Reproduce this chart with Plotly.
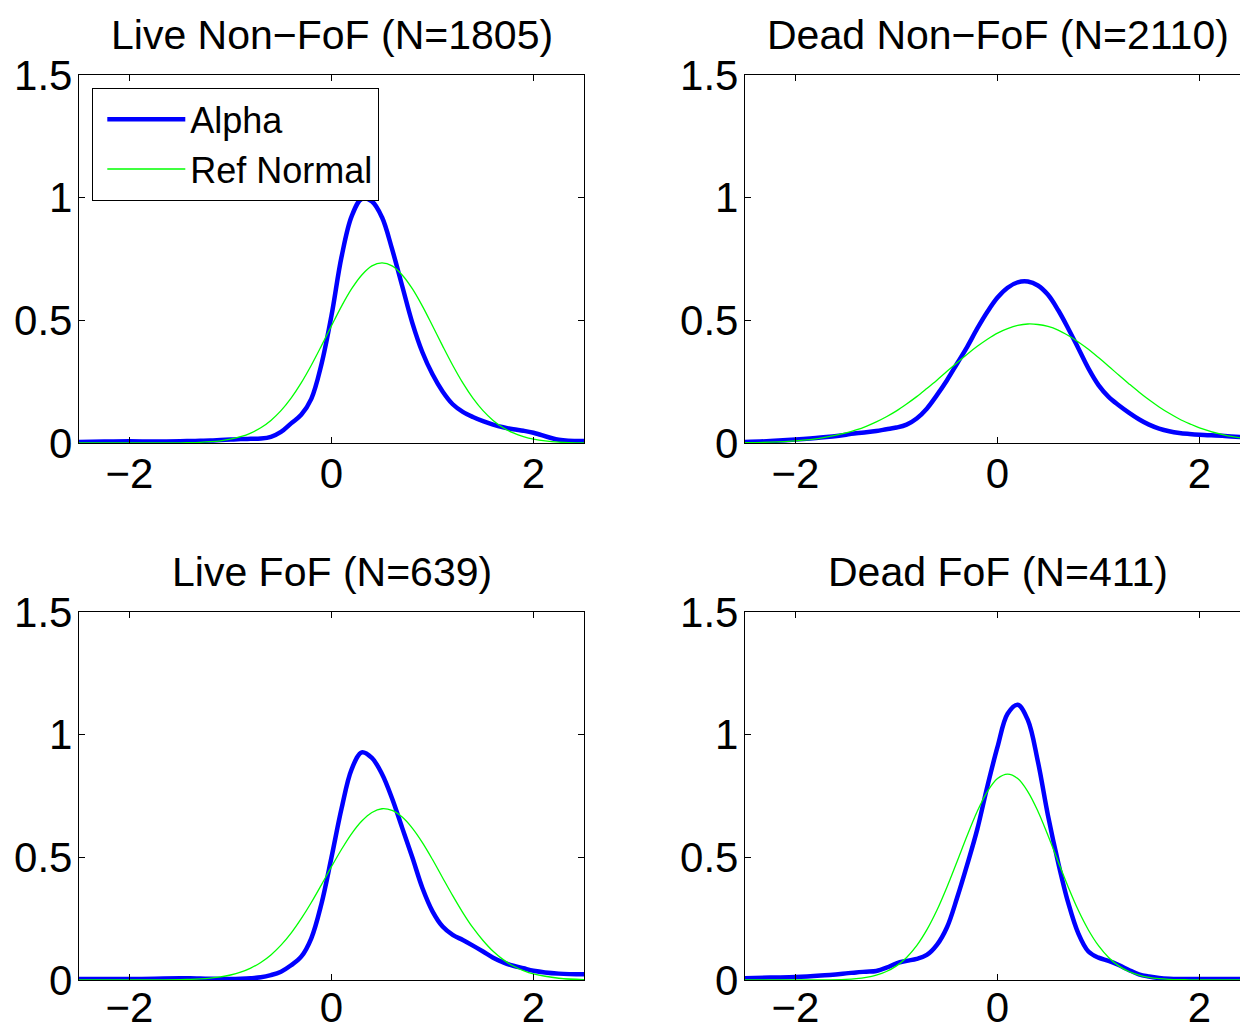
import plotly.graph_objects as go

# ---------------- data ----------------
x_grid = [-2.5, -2.25, -2.0, -1.75, -1.5, -1.4, -1.3, -1.2, -1.1, -1.0,
          -0.9, -0.8, -0.7, -0.6, -0.5, -0.4, -0.3, -0.2, -0.1, 0.0,
          0.1, 0.2, 0.3, 0.4, 0.5, 0.6, 0.7, 0.8, 0.9, 1.0,
          1.1, 1.2, 1.3, 1.4, 1.5, 1.6, 1.7, 1.8, 1.9, 2.0,
          2.25, 2.5]

panel_titles = ["Live Non\u2212FoF (N=1805)", "Dead Non\u2212FoF (N=2110)",
                "Live FoF (N=639)", "Dead FoF (N=411)"]

alpha_live_nonfof = [0.004, 0.006, 0.007, 0.006, 0.007, 0.008, 0.009, 0.010, 0.012, 0.014,
                     0.016, 0.017, 0.018, 0.025, 0.045, 0.080, 0.115, 0.180, 0.320, 0.520,
                     0.760, 0.925, 0.995, 0.985, 0.920, 0.790, 0.640, 0.490, 0.370, 0.280,
                     0.210, 0.158, 0.127, 0.106, 0.089, 0.075, 0.064, 0.056, 0.050, 0.042,
                     0.013, 0.008]
normal_live_nonfof = [0.000, 0.000, 0.000, 0.0001, 0.0008, 0.0015, 0.0028, 0.0052, 0.0091, 0.0155,
                      0.0255, 0.0405, 0.0622, 0.0922, 0.132, 0.183, 0.245, 0.317, 0.396, 0.478,
                      0.558, 0.629, 0.685, 0.722, 0.734, 0.722, 0.685, 0.629, 0.558, 0.478,
                      0.396, 0.317, 0.245, 0.183, 0.132, 0.092, 0.062, 0.041, 0.026, 0.016,
                      0.0038, 0.0008]

alpha_dead_nonfof = [0.004, 0.008, 0.014, 0.022, 0.034, 0.040, 0.044, 0.049, 0.056, 0.063,
                     0.075, 0.100, 0.140, 0.195, 0.256, 0.324, 0.392, 0.467, 0.535, 0.593,
                     0.633, 0.655, 0.658, 0.642, 0.604, 0.542, 0.467, 0.386, 0.304, 0.236,
                     0.188, 0.154, 0.124, 0.097, 0.075, 0.059, 0.048, 0.041, 0.037, 0.034,
                     0.029, 0.022]
normal_dead_nonfof = [0.0013, 0.0035, 0.0088, 0.0198, 0.0409, 0.0531, 0.0681, 0.086, 0.107, 0.131,
                      0.159, 0.189, 0.222, 0.256, 0.292, 0.327, 0.362, 0.394, 0.423, 0.448,
                      0.466, 0.479, 0.485, 0.483, 0.475, 0.460, 0.438, 0.412, 0.382, 0.348,
                      0.313, 0.277, 0.242, 0.208, 0.176, 0.147, 0.121, 0.098, 0.079, 0.062,
                      0.032, 0.015]

alpha_live_fof = [0.004, 0.004, 0.004, 0.005, 0.007, 0.007, 0.006, 0.005, 0.004, 0.004,
                  0.005, 0.007, 0.011, 0.020, 0.034, 0.060, 0.095, 0.170, 0.310, 0.500,
                  0.700, 0.860, 0.928, 0.905, 0.840, 0.740, 0.620, 0.500, 0.375, 0.280,
                  0.218, 0.184, 0.163, 0.140, 0.116, 0.091, 0.072, 0.058, 0.048, 0.038,
                  0.026, 0.023]
normal_live_fof = [0.000, 0.000, 0.000, 0.0003, 0.0014, 0.0025, 0.0044, 0.0076, 0.0126, 0.0204,
                   0.0319, 0.0485, 0.0716, 0.1024, 0.142, 0.191, 0.250, 0.316, 0.388, 0.462,
                   0.533, 0.597, 0.648, 0.683, 0.698, 0.691, 0.664, 0.619, 0.560, 0.491,
                   0.417, 0.344, 0.275, 0.213, 0.161, 0.117, 0.083, 0.057, 0.038, 0.0245,
                   0.0072, 0.0017]

alpha_dead_fof = [0.007, 0.010, 0.012, 0.018, 0.027, 0.031, 0.034, 0.037, 0.050, 0.068,
                  0.078, 0.086, 0.102, 0.143, 0.215, 0.335, 0.470, 0.615, 0.790, 0.950,
                  1.085, 1.122, 1.060, 0.890, 0.670, 0.480, 0.315, 0.190, 0.116, 0.091,
                  0.078, 0.061, 0.041, 0.023, 0.014, 0.008, 0.005, 0.004, 0.004, 0.004,
                  0.004, 0.004]
normal_dead_fof = [0.000, 0.000, 0.000, 0.0004, 0.0029, 0.0058, 0.011, 0.020, 0.0347, 0.0577,
                   0.092, 0.140, 0.204, 0.284, 0.379, 0.483, 0.589, 0.688, 0.768, 0.821,
                   0.839, 0.821, 0.768, 0.688, 0.589, 0.483, 0.379, 0.284, 0.204, 0.140,
                   0.092, 0.0577, 0.0347, 0.020, 0.011, 0.0058, 0.0029, 0.0014, 0.0006, 0.0003,
                   0.000, 0.000]

x_tickvals = [-2, 0, 2]
x_ticktext = ["\u22122", "0", "2"]
y_tickvals = [0, 0.5, 1, 1.5]
y_ticktext = ["0", "0.5", "1", "1.5"]

series = [
    (alpha_live_nonfof, normal_live_nonfof),
    (alpha_dead_nonfof, normal_dead_nonfof),
    (alpha_live_fof, normal_live_fof),
    (alpha_dead_fof, normal_dead_fof),
]

# ---------------- layout geometry ----------------
OFF = 7  # page offset of the plot div (body margin)
W, H = 1248, 1030 - OFF


def px_x(p):
    return (p - OFF) / W


def px_y(p):
    return 1 - (p - OFF) / H


x_domains = [[px_x(78), px_x(583)], [px_x(744), px_x(1249)]]
y_domains = [[px_y(442), px_y(74)], [px_y(979), px_y(611)]]
x_label_standoff = [-7, -10]   # top row, bottom row

FONT = "Liberation Sans, Arial, Helvetica, sans-serif"
BLUE = "#0000FF"
GREEN = "#00FF00"

fig = go.Figure()

for i, (alpha, ref) in enumerate(series):
    k = i + 1
    xa = "x" if k == 1 else f"x{k}"
    ya = "y" if k == 1 else f"y{k}"
    fig.add_trace(go.Scatter(
        x=x_grid, y=alpha, mode="lines", name="Alpha",
        line=dict(color=BLUE, width=4.5, shape="spline", smoothing=1.0),
        xaxis=xa, yaxis=ya, showlegend=(k == 1)))
    fig.add_trace(go.Scatter(
        x=x_grid, y=ref, mode="lines", name="Ref Normal",
        line=dict(color=GREEN, width=1.3, shape="spline", smoothing=1.0),
        xaxis=xa, yaxis=ya, showlegend=(k == 1)))

axis_common = dict(
    showline=True, linecolor="black", linewidth=1.3, mirror="ticks",
    ticks="inside", ticklen=6, tickwidth=1, tickcolor="black",
    showgrid=False, zeroline=False, automargin=False,
    tickfont=dict(family=FONT, size=42, color="black"),
)

layout_axes = {}
annotations = []
for i in range(4):
    k = i + 1
    row, col = divmod(i, 2)
    xname = "xaxis" if k == 1 else f"xaxis{k}"
    yname = "yaxis" if k == 1 else f"yaxis{k}"
    yref_id = "y" if k == 1 else f"y{k}"
    xref_id = "x" if k == 1 else f"x{k}"
    layout_axes[xname] = dict(
        axis_common, domain=x_domains[col], range=[-2.5, 2.5],
        tickvals=x_tickvals, ticktext=x_ticktext, anchor=yref_id,
        ticklabelstandoff=x_label_standoff[row])
    layout_axes[yname] = dict(
        axis_common, domain=y_domains[row], range=[0, 1.5],
        tickvals=y_tickvals, ticktext=y_ticktext, anchor=xref_id,
        ticklabelstandoff=-3)
    annotations.append(dict(
        text=panel_titles[i], xref=f"{xref_id} domain", yref=f"{yref_id} domain",
        x=0.5, y=1.0, xanchor="center", yanchor="bottom", yshift=16,
        borderpad=0,
        showarrow=False, font=dict(family=FONT, size=41, color="black")))

fig.update_layout(
    width=W, height=H, autosize=False,
    margin=dict(l=0, r=0, t=0, b=0, pad=0, autoexpand=False),
    paper_bgcolor="white", plot_bgcolor="white",
    annotations=annotations,
    legend=dict(
        x=px_x(91), y=px_y(87), xanchor="left", yanchor="top",
        bgcolor="white", bordercolor="black", borderwidth=1.3,
        font=dict(family=FONT, size=36, color="black"),
        itemwidth=78, indentation=9, tracegroupgap=0,
    ),
    **layout_axes,
)

fig.write_html("out.html")
